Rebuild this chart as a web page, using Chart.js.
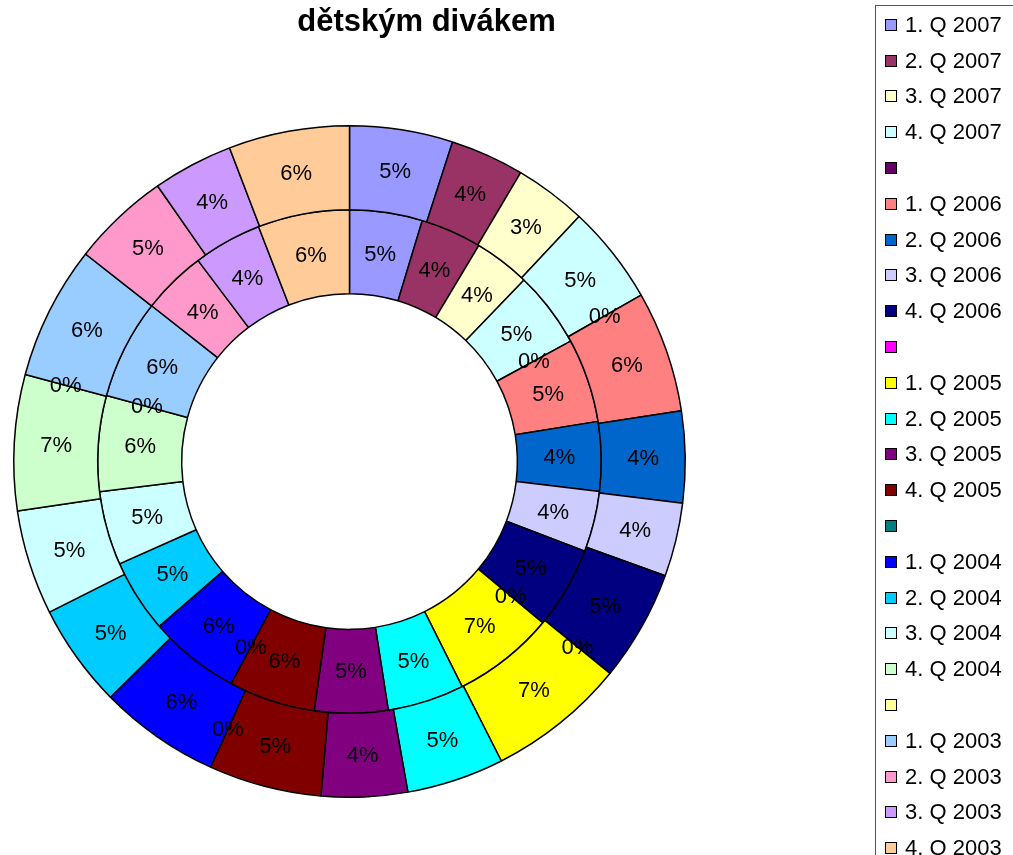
<!DOCTYPE html>
<html lang="cs">
  <head>
    <meta charset="UTF-8" />
    <title>dětským divákem</title>
    <script src="https://cdn.jsdelivr.net/npm/chart.js"></script>
    <style>
      body {
        margin: 0;
        background: #fff;
        font-family: "Liberation Sans", Arial, sans-serif;
        overflow: hidden;
      }
      #wrap {
        position: relative;
        width: 1013px;
        height: 855px;
        overflow: hidden;
      }
      #chart {
        position: absolute;
        left: 0;
        top: 0;
      }
      #title {
        position: absolute;
        left: 0;
        top: 5px;
        width: 853px;
        text-align: center;
        font-weight: bold;
        font-size: 31px;
        line-height: 31px;
      }
      #legend {
        position: absolute;
        left: 875px;
        top: 5px;
        width: 200px;
        height: 900px;
        border: 1px solid #555;
      }
      .item {
        position: absolute;
        left: 9px;
        height: 22px;
        display: flex;
        align-items: center;
        font-size: 22px;
        line-height: 22px;
        white-space: nowrap;
      }
      .box {
        width: 10px;
        height: 10px;
        border: 1px solid #000;
        margin-right: 8px;
      }
    </style>
  </head>
  <body>
    <div id="wrap">
      <canvas id="chart" width="1013" height="855"></canvas>
      <div id="title">dětským divákem</div>
      <div id="legend"></div>
    </div>

    <script>
      // quarters, blank entries are the gaps between years
      const quarters = [
        "1. Q 2007", "2. Q 2007", "3. Q 2007", "4. Q 2007", "",
        "1. Q 2006", "2. Q 2006", "3. Q 2006", "4. Q 2006", "",
        "1. Q 2005", "2. Q 2005", "3. Q 2005", "4. Q 2005", "",
        "1. Q 2004", "2. Q 2004", "3. Q 2004", "4. Q 2004", "",
        "1. Q 2003", "2. Q 2003", "3. Q 2003", "4. Q 2003",
      ];

      const colors = [
        "#9999FF", "#993366", "#FFFFCC", "#CCFFFF", "#660066",
        "#FF8080", "#0066CC", "#CCCCFF", "#000080", "#FF00FF",
        "#FFFF00", "#00FFFF", "#800080", "#800000", "#008080",
        "#0000FF", "#00CCFF", "#CCFFFF", "#CCFFCC", "#FFFF99",
        "#99CCFF", "#FF99CC", "#CC99FF", "#FFCC99",
      ];

      // outer ring (%)
      const outerValues = [
        4.98, 3.56, 3.48, 4.78, 0,
        5.85, 4.42, 3.55, 5.36, 0,
        6.68, 4.7, 4.15, 5.45, 0,
        5.84, 5.0, 5.06, 6.55, 0,
        6.45, 4.73, 3.88, 5.83,
      ];

      // inner ring (%)
      const innerValues = [
        4.67, 3.92, 3.6, 4.88, 0,
        5.39, 4.45, 3.89, 5.28, 0,
        6.55, 4.92, 4.71, 5.55, 0,
        5.85, 4.7, 4.75, 6.14, 0,
        6.39, 4.11, 4.4, 5.88,
      ];

      // legend
      const legend = document.getElementById("legend");
      quarters.forEach((q, i) => {
        const row = document.createElement("div");
        row.className = "item";
        row.style.top = 24.7 + i * 35.8 - 11 - 6 + "px";
        row.innerHTML =
          '<span class="box" style="background:' + colors[i] + '"></span>' +
          "<span>" + q + "</span>";
        legend.appendChild(row);
      });

      // percentage labels in the middle of each slice
      const pctLabels = {
        id: "pctLabels",
        afterDatasetsDraw(chart) {
          const ctx = chart.ctx;
          ctx.save();
          ctx.font = '22px "Liberation Sans", Arial, sans-serif';
          ctx.fillStyle = "#000";
          ctx.textAlign = "center";
          ctx.textBaseline = "middle";
          chart.data.datasets.forEach((ds, i) => {
            chart.getDatasetMeta(i).data.forEach((arc, j) => {
              const p = arc.tooltipPosition();
              ctx.fillText(Math.round(ds.data[j]) + "%", p.x, p.y + 1);
            });
          });
          ctx.restore();
        },
      };

      new Chart(document.getElementById("chart"), {
        type: "doughnut",
        data: {
          labels: quarters,
          datasets: [
            {
              data: outerValues,
              backgroundColor: colors,
              borderColor: "#000",
              borderWidth: 1.5,
            },
            {
              data: innerValues,
              backgroundColor: colors,
              borderColor: "#000",
              borderWidth: 1.5,
            },
          ],
        },
        options: {
          responsive: false,
          animation: false,
          cutout: "50%",
          layout: {
            padding: { left: 13, top: 125, right: 327, bottom: 57 },
          },
          plugins: {
            legend: { display: false },
            tooltip: { enabled: false },
          },
        },
        plugins: [pctLabels],
      });
    </script>
  </body>
</html>
